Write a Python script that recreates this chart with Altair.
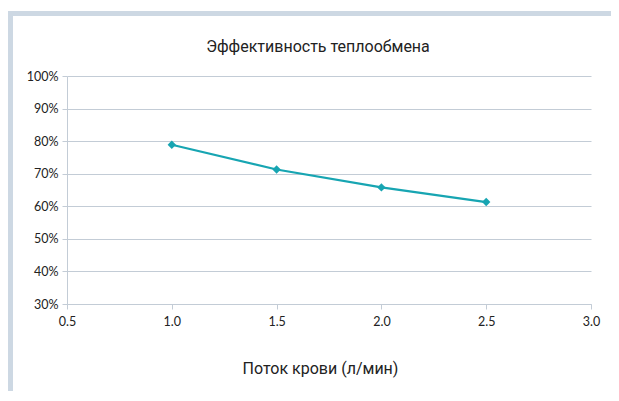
import altair as alt
import pandas as pd

flow = [1.0, 1.5, 2.0, 2.5]
efficiency = [0.789, 0.713, 0.658, 0.613]
chart_title = ["Эффективность теплообмена"]

df = pd.DataFrame({"flow": flow, "eff": efficiency})

LINE = "#17a5b2"
GRID = "#c3ccd6"
FRAME = "#cdd8e3"

base = alt.Chart(df).encode(
    x=alt.X("flow:Q", title="Поток крови (л/мин)",
            scale=alt.Scale(domain=[0.5, 3.0], nice=False, zero=False),
            axis=alt.Axis(values=[0.5, 1.0, 1.5, 2.0, 2.5, 3.0], format=".1f",
                          grid=False, tickSize=5, labelPadding=6,
                          labelFlush=False, titlePadding=33, titleX=253)),
    y=alt.Y("eff:Q", title=None,
            scale=alt.Scale(domain=[0.3, 1.0], nice=False, zero=False),
            axis=alt.Axis(values=[0.3, 0.4, 0.5, 0.6, 0.7, 0.8, 0.9, 1.0],
                          format=".0%", tickSize=5, labelPadding=4,
                          labelFlush=False, domain=True)),
)

line = base.mark_line(color=LINE, strokeWidth=2.2)
pts = base.mark_point(shape="diamond", filled=True, color=LINE, size=70, opacity=1)

frame_src = pd.DataFrame({"k": [0]})
top_frame = alt.Chart(frame_src).mark_rule(color=FRAME, strokeWidth=5).encode(
    x=alt.value(-60), x2=alt.value(570), y=alt.value(-62.5))
left_frame = alt.Chart(frame_src).mark_rule(color=FRAME, strokeWidth=5).encode(
    x=alt.value(-56.5), y=alt.value(-65), y2=alt.value(400))

title_src = pd.DataFrame({"t": chart_title})
title = alt.Chart(title_src).mark_text(
    font="Roboto", fontSize=16, color="#222", baseline="alphabetic", align="center"
).encode(text="t:N", x=alt.value(251), y=alt.value(-24))

chart = alt.layer(top_frame, left_frame, line, pts, title).properties(
    width=524, height=228,
    autosize=alt.AutoSizeParams(type="none"),
    padding={"left": 59, "top": 68, "right": 20, "bottom": 87},
).configure_view(stroke=None).configure_axis(
    gridColor=GRID, domainColor=GRID, tickColor=GRID,
    labelFont="Lato", labelFontSize=12.5, labelColor="#222",
    titleFont="Roboto", titleFontSize=16, titleFontWeight="normal",
    titleColor="#222",
)

chart.save("out.html", embed_options={"renderer": "svg", "actions": False})
